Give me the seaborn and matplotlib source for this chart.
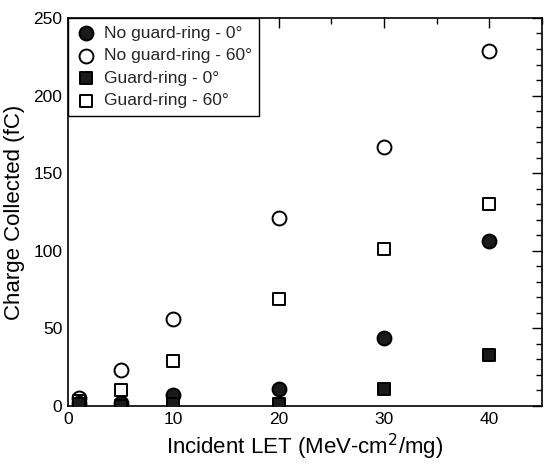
import matplotlib
matplotlib.use("Agg")
import matplotlib.pyplot as plt
import seaborn as sns
import pandas as pd
from matplotlib.ticker import MultipleLocator

sns.set_theme(style="white")
plt.rcParams['font.family'] = ['Liberation Sans', 'DejaVu Sans']

let = [1, 5, 10, 20, 30, 40]
no_gr_0 = [2, 2, 7, 11, 44, 106]
no_gr_60 = [5, 23, 56, 121, 167, 229]
gr_0 = [1, 0, 1, 1, 11, 33]
gr_60 = [3, 10, 29, 69, 101, 130]

series = [
    ("No guard-ring - 0\u00b0", no_gr_0, "o", "#1a1a1a", 100),
    ("No guard-ring - 60\u00b0", no_gr_60, "o", "white", 100),
    ("Guard-ring - 0\u00b0", gr_0, "s", "#1a1a1a", 80),
    ("Guard-ring - 60\u00b0", gr_60, "s", "white", 80),
]

fig = plt.figure(figsize=(5.44, 4.67), dpi=100)
ax = fig.add_axes([0.125, 0.1306, 0.871, 0.831])

order = [1, 3, 0, 2]
for i in order:
    name, vals, mk, fc, s = series[i]
    df = pd.DataFrame({"LET": let, "Q": vals})
    sns.scatterplot(data=df, x="LET", y="Q", marker=mk, s=s, color=fc,
                    edgecolor="black", linewidth=1.4, ax=ax, label=name,
                    zorder=3 + (1 if fc != "white" else 0))

ax.set_xlim(0, 45)
ax.set_ylim(0, 250)
ax.xaxis.set_major_locator(MultipleLocator(10))
ax.xaxis.set_minor_locator(MultipleLocator(5))
ax.yaxis.set_major_locator(MultipleLocator(50))
ax.yaxis.set_minor_locator(MultipleLocator(10))
ax.tick_params(which="both", direction="in", top=True, right=True,
               labelsize=12.5, colors="black", pad=4)
ax.tick_params(which="major", length=7, width=1)
ax.tick_params(which="minor", length=4, width=1)
for sp in ax.spines.values():
    sp.set_color("black")
    sp.set_linewidth(1.2)

ax.set_xlabel("Incident LET (MeV-cm$^2$/mg)", fontsize=16, color="black", labelpad=4)
ax.set_ylabel("Charge Collected (fC)", fontsize=16, color="black", labelpad=6)

handles, labels = ax.get_legend_handles_labels()
lab_order = [s[0] for s in series]
hl = dict(zip(labels, handles))
leg = ax.legend([hl[l] for l in lab_order], lab_order, loc="upper left",
                bbox_to_anchor=(0, 1), borderaxespad=0, frameon=True,
                fancybox=False, fontsize=12.5, handletextpad=0.4,
                handlelength=1.2, labelspacing=0.42, borderpad=0.45)
leg.get_frame().set_edgecolor("black")
leg.get_frame().set_linewidth(1.0)
leg.get_frame().set_alpha(1)

fig.savefig("out.png", dpi=100)
